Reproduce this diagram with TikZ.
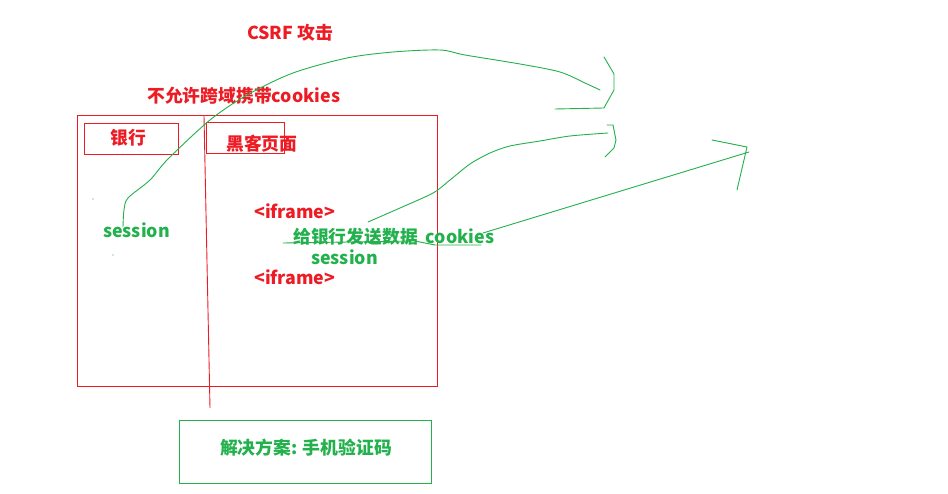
\documentclass[tikz,border=0pt]{standalone}
\usepackage{fontspec}
\setmainfont{Noto Sans CJK SC}
\definecolor{pred}{HTML}{ED1C24}
\definecolor{pgreen}{HTML}{22B14C}
\begin{document}
\begin{tikzpicture}[x=1pt,y=-1pt,
  redtxt/.style={text=pred,font=\bfseries\fontsize{17.8}{20}\selectfont,inner sep=0pt,anchor=west},
  greentxt/.style={text=pgreen,font=\bfseries\fontsize{17.8}{20}\selectfont,inner sep=0pt,anchor=west},
  redline/.style={draw=pred,line width=0.9pt},
  greenline/.style={draw=pgreen,line width=0.9pt,line join=round,line cap=round}]
\useasboundingbox[fill=white] (0,0) rectangle (948,494);
% boxes
\draw[redline] (77,115) rectangle (437,386);
\node[redline,minimum width=94pt,minimum height=31pt,inner sep=0pt] (bankbox) at (131,138.5) {};
\node[redline,minimum width=78pt,minimum height=31pt,inner sep=0pt] (hackbox) at (245,137.5) {};
\node[draw=pgreen,line width=0.9pt,minimum width=252pt,minimum height=63pt,inner sep=0pt] (solbox) at (305,451.5) {};
\coordinate (vtop) at (204,116);
\coordinate (vbot) at (210,408);
\draw[redline] (vtop) -- (vbot);
% texts
\node[redtxt] (title) at (247,33) {CSRF 攻击};
\node[redtxt] (nocross) at (147,96) {不允许跨域携带cookies};
\node[redtxt] (bank) at (110,138) {银行};
\node[redtxt] (hack) at (226,144) {黑客页面};
\node[redtxt] (if1) at (254,211) {<iframe>};
\node[redtxt] (if2) at (254,277) {<iframe>};
\node[greentxt] (sess1) at (103,230) {session};
\node[greentxt] (send) at (293,237) {给银行发送数据~~cookies};
\node[greentxt] (sess2) at (311,257) {session};
\node[text=pgreen,font=\bfseries\fontsize{17.8}{20}\selectfont,inner sep=0pt] (sol) at (306,448) {解决方案: 手机验证码};
% green freehand strokes
\draw[greenline] plot[smooth,tension=0.5] coordinates {(123,227) (124,210) (128,198) (150,180) (168,159) (210,120) (247,95) (293,73) (347,58) (393,52) (440,50) (465,55) (520,64) (560,72) (585,83) (600,90)};
\draw[greenline] (604,57) -- (614,74) -- (614,90) -- (605,106) -- (604,108) -- (555,109);
\draw[greenline] plot[smooth,tension=0.5] coordinates {(368,222) (400,208) (433,193) (450,180) (470,164) (490,153) (510,146) (540,141) (570,136) (608,133)};
\draw[greenline] (607,125) -- (613,125) -- (616,140) -- (614,148) -- (605,157);
\draw[greenline] (283,243) -- (415,241) -- (435,245) -- (481,245);
\coordinate (arrtip) at (749,152);
\draw[greenline] (483,233) -- (arrtip);
\draw[greenline] (712,140) -- (747,147) -- (737,190);
\fill[pgreen] (93,199) circle (0.7);
\fill[pgreen] (113,255) circle (0.7);
\end{tikzpicture}
\end{document}
